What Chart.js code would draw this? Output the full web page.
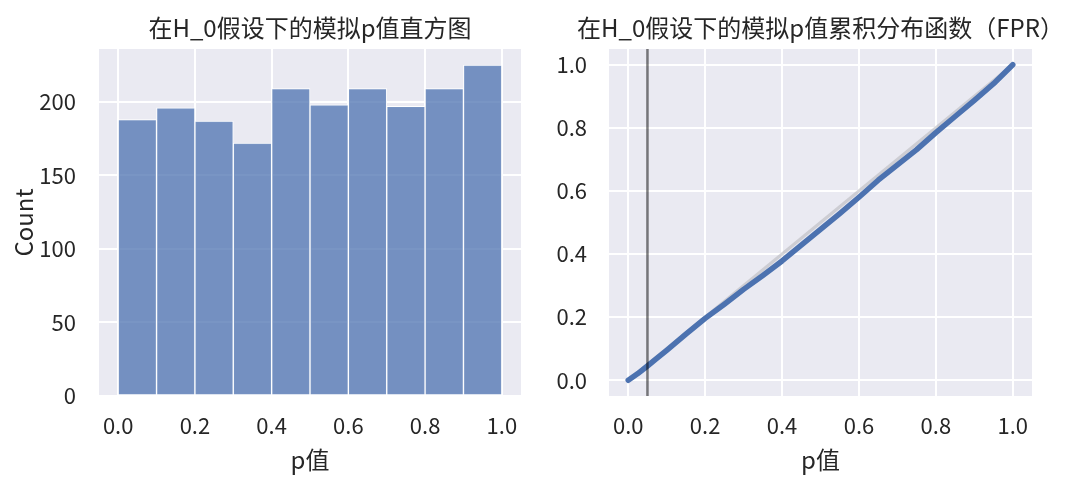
<!DOCTYPE html>
<html>
<head>
<meta charset="utf-8">
<script src="https://cdn.jsdelivr.net/npm/chart.js@4.4.1/dist/chart.umd.min.js"></script>
<style>
  html, body { margin: 0; padding: 0; background: #ffffff; width: 1080px; height: 482px; overflow: hidden; position: relative; }
  canvas { position: absolute; top: 0; }
  #histCanvas { left: 0px; }
  #cdfCanvas { left: 540px; }
</style>
</head>
<body>
<canvas id="histCanvas" width="620" height="482"></canvas>
<canvas id="cdfCanvas" width="561" height="482"></canvas>
<script>
// ---------------- data ----------------
const histTitle = '在H_0假设下的模拟p值直方图';
const cdfTitle = '在H_0假设下的模拟p值累积分布函数（FPR）';
const xLabel = 'p值';
const yLabelHist = 'Count';

// histogram bins (centres, width 0.1) and counts
const binCenters = [0.05, 0.15, 0.25, 0.35, 0.45, 0.55, 0.65, 0.75, 0.85, 0.95];
const binCounts  = [188, 196, 187, 172, 209, 198, 209, 197, 209, 225];

const cdfX = [0, 0.025, 0.05, 0.075, 0.1, 0.15, 0.2, 0.25, 0.3, 0.35, 0.4, 0.45, 0.5, 0.55, 0.6, 0.65, 0.7, 0.75, 0.8, 0.85, 0.9, 0.95, 1.0];
const cdfY = [0, 0.021, 0.045, 0.07, 0.095, 0.146, 0.196, 0.241, 0.288, 0.332, 0.378, 0.428, 0.478, 0.528, 0.58, 0.634, 0.683, 0.731, 0.785, 0.836, 0.887, 0.94, 1.0];

// uniform reference diagonal
const diagX = [0, 1];
const diagY = [0, 1];

// FPR threshold (vertical line)
const alphaLevel = 0.05;

// tick values
const xTicks = [0, 0.2, 0.4, 0.6, 0.8, 1.0];
const yTicksHist = [0, 50, 100, 150, 200];
const yTicksCdf = [0, 0.2, 0.4, 0.6, 0.8, 1.0];

// axis limits
const xMin = -0.05, xMax = 1.05;
const yMinHist = 0, yMaxHist = 236;
const yMinCdf = -0.05, yMaxCdf = 1.05;

// ---------------- styling ----------------
const FONT = "'Noto Sans CJK SC', 'Noto Sans', sans-serif";
const TEXT = '#262626';
const BG = '#EAEAF2';
Chart.defaults.font.family = FONT;
Chart.defaults.color = TEXT;

const bgPlugin = {
  id: 'axesBg',
  beforeDraw(chart) {
    const { ctx, chartArea: a } = chart;
    ctx.save();
    ctx.fillStyle = BG;
    ctx.fillRect(a.left, a.top, a.right - a.left, a.bottom - a.top);
    ctx.restore();
  }
};

// axes title centred over the plotting area (like matplotlib's set_title)
const axesTitlePlugin = {
  id: 'axesTitle',
  afterDraw(chart, args, opts) {
    const { ctx, chartArea: a } = chart;
    ctx.save();
    ctx.font = '24px ' + FONT;
    ctx.fillStyle = TEXT;
    ctx.textAlign = 'center';
    ctx.textBaseline = 'middle';
    ctx.fillText(opts.text, (a.left + a.right) / 2, 27.5);
    ctx.restore();
  }
};

function fixedTicks(values) {
  return function (axis) { axis.ticks = values.map(v => ({ value: v })); };
}

function xScale() {
  return {
    type: 'linear', min: xMin, max: xMax, offset: false,
    afterBuildTicks: fixedTicks(xTicks),
    afterFit(s) { s.height = 86; },
    grid: { color: '#ffffff', lineWidth: 2, drawTicks: false, offset: false },
    border: { display: false },
    ticks: { padding: 16, color: TEXT, font: { size: 22 }, maxRotation: 0, callback: v => v.toFixed(1) },
    title: { display: true, text: xLabel, color: TEXT, font: { size: 24 }, padding: { top: 0, bottom: 8 } }
  };
}

// ---------------- histogram ----------------
new Chart(document.getElementById('histCanvas'), {
  type: 'bar',
  data: {
    datasets: [{
      data: binCenters.map((c, i) => ({ x: c, y: binCounts[i] })),
      backgroundColor: 'rgba(76,114,176,0.75)',
      borderColor: '#ffffff',
      borderWidth: 1,
      borderSkipped: false,
      barPercentage: 1,
      categoryPercentage: 1
    }]
  },
  options: {
    responsive: false, animation: false,
    layout: { padding: { left: 0, right: 99, top: 49, bottom: 0 } },
    plugins: { legend: { display: false }, tooltip: { enabled: false }, title: { display: false }, axesTitle: { text: histTitle } },
    scales: {
      x: xScale(),
      y: {
        type: 'linear', min: yMinHist, max: yMaxHist,
        afterBuildTicks: fixedTicks(yTicksHist),
        afterFit(s) { s.width = 99; },
        grid: { color: '#ffffff', lineWidth: 2, drawTicks: false },
        border: { display: false },
        ticks: { padding: 23, color: TEXT, font: { size: 22 } },
        title: { display: true, text: yLabelHist, color: TEXT, font: { size: 24 }, padding: { top: 9, bottom: 0 } }
      }
    }
  },
  plugins: [bgPlugin, axesTitlePlugin]
});

// ---------------- CDF ----------------
new Chart(document.getElementById('cdfCanvas'), {
  type: 'scatter',
  data: {
    datasets: [
      {
        data: [{ x: alphaLevel, y: yMinCdf }, { x: alphaLevel, y: yMaxCdf }],
        showLine: true, borderColor: 'rgba(0,0,0,0.5)', borderWidth: 2.5,
        pointRadius: 0
      },
      {
        data: cdfX.map((x, i) => ({ x: x, y: cdfY[i] })),
        showLine: true, borderColor: '#4C72B0', borderWidth: 5.5,
        borderCapStyle: 'round', borderJoinStyle: 'round',
        pointRadius: 0, tension: 0
      },
      {
        data: diagX.map((x, i) => ({ x: x, y: diagY[i] })),
        showLine: true, borderColor: 'rgba(185,185,190,0.6)', borderWidth: 3,
        pointRadius: 0
      }
    ]
  },
  options: {
    responsive: false, animation: false,
    layout: { padding: { left: 0, right: 69, top: 49, bottom: 0 } },
    plugins: { legend: { display: false }, tooltip: { enabled: false }, title: { display: false }, axesTitle: { text: cdfTitle } },
    scales: {
      x: xScale(),
      y: {
        type: 'linear', min: yMinCdf, max: yMaxCdf,
        afterBuildTicks: fixedTicks(yTicksCdf),
        afterFit(s) { s.width = 69; },
        grid: { color: '#ffffff', lineWidth: 2, drawTicks: false },
        border: { display: false },
        ticks: { padding: 22, color: TEXT, font: { size: 22 }, callback: v => v.toFixed(1) }
      }
    }
  },
  plugins: [bgPlugin, axesTitlePlugin]
});
</script>
</body>
</html>
